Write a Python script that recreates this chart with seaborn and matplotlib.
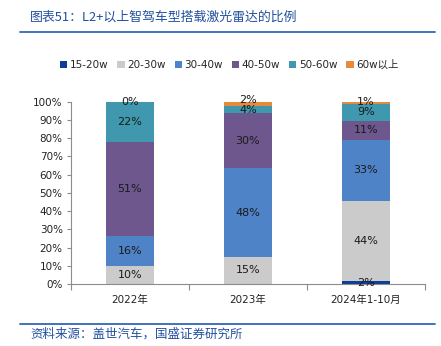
import matplotlib
matplotlib.use("Agg")
import matplotlib.pyplot as plt
import seaborn as sns
import numpy as np
import pandas as pd
from matplotlib.patches import Patch

# Share of LiDAR-equipped L2+ models by price band
categories = ["2022年", "2023年", "2024年1-10月"]
series_names = ["15-20w", "20-30w", "30-40w", "40-50w", "50-60w", "60w以上"]
share_15_20 = [0.0, 0.0, 1.6]
share_20_30 = [10.0, 15.0, 44.0]
share_30_40 = [16.4, 48.4, 33.4]
share_40_50 = [51.3, 30.2, 10.6]
share_50_60 = [22.0, 4.2, 9.4]
share_60_up = [0.3, 2.2, 1.0]
series_values = [share_15_20, share_20_30, share_30_40, share_40_50, share_50_60, share_60_up]
colors = ["#0b3e96", "#cbcbcb", "#4f83c8", "#6d578d", "#3f98ad", "#e88a3c"]
y_ticks = [0, 10, 20, 30, 40, 50, 60, 70, 80, 90, 100]

sns.set_style("white")
plt.rcParams["font.family"] = ["DejaVu Sans", "Noto Sans CJK SC"]

W, H = 441, 346
fig = plt.figure(figsize=(W / 100, H / 100), dpi=100)
ax = fig.add_axes([71 / W, 1 - 284 / H, (425 - 71) / W, (284 - 101.7) / H])

bottoms = np.zeros(len(categories))
labels = [[] for _ in categories]
for name, vals, col in zip(series_names, series_values, colors):
    df = pd.DataFrame({"cat": categories, "val": vals})
    sns.barplot(data=df, x="cat", y="val", bottom=bottoms, color=col,
                width=0.415, ax=ax, saturation=1, edgecolor="none", linewidth=0)
    for i, v in enumerate(vals):
        if v > 0:
            labels[i].append([bottoms[i] + v / 2, f"{v:.0f}%"])
    bottoms = bottoms + np.array(vals)

# keep stacked labels of thin segments from sitting on top of each other
min_gap = 5.5
for i, items in enumerate(labels):
    for k in range(1, len(items)):
        if items[k][0] - items[k - 1][0] < min_gap:
            items[k][0] = items[k - 1][0] + min_gap
    for y, txt in items:
        ax.text(i, y, txt, ha="center", va="center", fontsize=8,
                color="#1a1a1a", family=["DejaVu Sans"], clip_on=False)

ax.set_xlim(-0.5, 2.5)
ax.set_ylim(0, 100)
ax.set_yticks(y_ticks)
ax.set_yticklabels([f"{t}%" for t in y_ticks], fontsize=7.5, color="#222222")
ax.set_xticks([0, 1, 2])
ax.set_xticklabels(categories, fontsize=7.5, color="#222222",
                   family=["DejaVu Sans", "Noto Sans CJK SC"])
ax.set_xlabel("")
ax.set_ylabel("")
for s in ["top", "right"]:
    ax.spines[s].set_visible(False)
for s in ["left", "bottom"]:
    ax.spines[s].set_color("#8c8c8c")
    ax.spines[s].set_linewidth(0.8)
ax.tick_params(axis="y", which="major", length=3, width=0.8, color="#8c8c8c",
               direction="out", left=True, pad=3)
ax.tick_params(axis="x", which="major", length=0, pad=8)
ax.set_xticks([-0.5, 0.5, 1.5, 2.5], minor=True)
ax.tick_params(axis="x", which="minor", length=4, width=0.8, color="#8c8c8c",
               direction="out", bottom=True)

handles = [Patch(facecolor=c, edgecolor="none") for c in colors]
fig.legend(handles, series_names, loc="center", bbox_to_anchor=(0.52, 1 - 65 / H),
           ncol=6, frameon=False, handlelength=0.7, handleheight=0.7,
           handletextpad=0.25, columnspacing=0.85,
           prop={"family": ["DejaVu Sans", "Noto Sans CJK SC"], "size": 7.5})

title_blue = "#22509f"
fig.text(30 / W, 1 - 17 / H, "图表51：L2+以上智驾车型搭载激光雷达的比例", fontsize=9.3,
         color=title_blue, style="italic", ha="left", va="center",
         family=["Noto Sans CJK SC", "DejaVu Sans"])
fig.add_artist(plt.Line2D([20 / W, 435 / W], [1 - 32 / H, 1 - 32 / H],
                          color="#3366b8", linewidth=1.3))
fig.add_artist(plt.Line2D([20 / W, 435 / W], [1 - 323.5 / H, 1 - 323.5 / H],
                          color="#3366b8", linewidth=1.3))
fig.text(30 / W, 1 - 334 / H, "资料来源：盖世汽车，国盛证券研究所", fontsize=9,
         color=title_blue, style="italic", ha="left", va="center",
         family=["Noto Sans CJK SC", "DejaVu Sans"])

fig.savefig("out.png", dpi=100)
